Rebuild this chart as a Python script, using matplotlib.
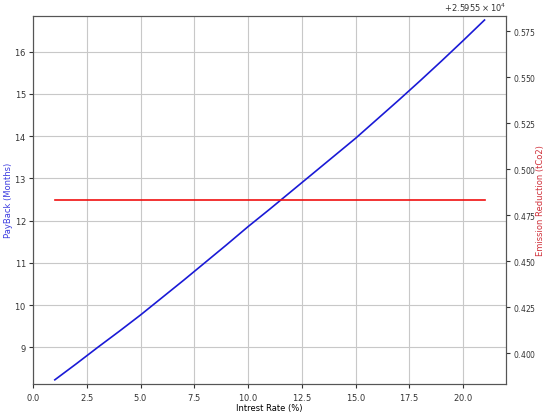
import matplotlib
matplotlib.use('Agg')
import matplotlib.pyplot as plt

plt.rcParams['font.size'] = 6
plt.rcParams['axes.formatter.use_mathtext'] = True
plt.rcParams['xtick.major.size'] = 3
plt.rcParams['ytick.major.size'] = 3
plt.rcParams['xtick.major.pad'] = 2.5
plt.rcParams['ytick.major.pad'] = 2
plt.rcParams['xtick.color'] = '#333333'
plt.rcParams['ytick.color'] = '#333333'

# interest rate (%) vs payback (months)
rate = [1, 2, 3, 4, 5, 6, 7, 8, 9, 10, 11, 12, 13, 14, 15, 16, 17, 18, 19, 20, 21]
payback = [8.23, 8.61, 9.00, 9.38, 9.77, 10.18, 10.59, 11.01, 11.43, 11.86, 12.27,
           12.69, 13.11, 13.53, 13.95, 14.40, 14.85, 15.31, 15.78, 16.26, 16.75]
# emission reduction (tCO2), constant across the range
emission = [25955.4832] * len(rate)

fig = plt.figure(figsize=(5.5, 4.18), dpi=100)
ax1 = fig.add_axes([0.0606, 0.0806, 0.8594, 0.8811])
ax2 = ax1.twinx()

ax1.plot(rate, payback, color='#1a1ad6', linewidth=1.2)
ax1.set_xlabel('Intrest Rate (%)')
ax1.set_ylabel('PayBack (Months)', color='#3a3ae0')
ax1.xaxis.set_label_coords(0.5, -0.054)
ax1.yaxis.set_label_coords(-0.042, 0.5)
ax1.set_xlim(0, 22)
ax1.set_ylim(8.124, 16.845)
ax1.grid(True, color='#c8c8c8', linewidth=0.8)

ax2.plot(rate, emission, color='#f01010', linewidth=1.2)
ax2.set_ylabel('Emission Reduction (tCo2)', color='#d0303a')
ax2.yaxis.set_label_coords(1.064, 0.5)
ax2.set_ylim(25955.3830, 25955.5832)
ax2.tick_params(axis='y', labelsize=5.5)

for ax in (ax1, ax2):
    for s in ax.spines.values():
        s.set_color('#555555')

fig.savefig('out.png', dpi=100)
